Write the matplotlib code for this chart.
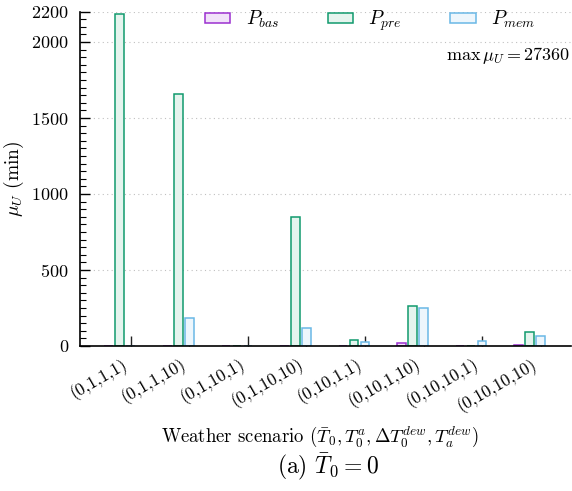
import matplotlib
matplotlib.use("Agg")
import matplotlib.pyplot as plt
import matplotlib.transforms as mtrans
import numpy as np
from matplotlib.ticker import MultipleLocator, FixedLocator

plt.rcParams['font.family'] = ['cmr10', 'DejaVu Serif']
plt.rcParams['mathtext.fontset'] = 'cm'
plt.rcParams['axes.formatter.use_mathtext'] = True

categories = ['(0,1,1,1)', '(0,1,1,10)', '(0,1,10,1)', '(0,1,10,10)',
              '(0,10,1,1)', '(0,10,1,10)', '(0,10,10,1)', '(0,10,10,10)']
p_bas = [0, 1, 0, 0, 2, 18, 0, 5]
p_pre = [2184, 1658, 0, 849, 37, 265, 0, 90]
p_mem = [3, 186, 0, 118, 26, 248, 35, 68]
series_labels = [r'$P_{bas}$', r'$P_{pre}$', r'$P_{mem}$']
y_major = [0, 500, 1000, 1500, 2000, 2200]

edge_colors = ['#9b30d0', '#119a6e', '#6ab8e6']
face_colors = ['#f1e2f9', '#e5f4ee', '#edf6fc']

fig = plt.figure(figsize=(5.72, 4.91), dpi=100)
ax = fig.add_axes([80/572, 1-346/491, 491/572, (346-11.6)/491])

x = np.arange(len(categories))
d = 0.188
w = 0.152
for k, (vals, lab) in enumerate(zip([p_bas, p_pre, p_mem], series_labels)):
    ax.bar(x + (k-2)*d, vals, width=w, color=face_colors[k],
           edgecolor=edge_colors[k], linewidth=1.1, label=lab, zorder=2)

ax.set_xlim(-0.87, 7.52)
ax.set_ylim(0, 2200)
ax.set_axisbelow(True)
ax.yaxis.set_major_locator(FixedLocator(y_major))
ax.yaxis.set_minor_locator(MultipleLocator(50))
ax.grid(axis='y', which='major', linestyle=(0, (1, 3)), color='#c0c0c0', linewidth=0.8)

ax.set_xticks(x)
ax.set_xticklabels(categories, rotation=30, ha='right', rotation_mode='anchor', fontsize=12.5)
ax.tick_params(axis='x', direction='in', length=7, width=1.0, color='#222222', pad=6.5)
ax.tick_params(axis='y', which='major', direction='in', length=7, width=1.0, labelsize=13, pad=8)
ax.tick_params(axis='y', which='minor', direction='in', length=4, width=0.8)
offset = mtrans.ScaledTranslation(-9.5/100, 0, fig.dpi_scale_trans)
for lbl in ax.get_xticklabels():
    lbl.set_transform(lbl.get_transform() + offset)

for s in ['top', 'right']:
    ax.spines[s].set_visible(False)
for s in ['left', 'bottom']:
    ax.spines[s].set_linewidth(1.2)

ax.set_ylabel(r'$\mu_U$ (min)', fontsize=14, labelpad=4)
ax.set_xlabel(r'Weather scenario $(\bar{T}_0, T_0^a, \Delta T_0^{dew}, T_a^{dew})$', fontsize=13.5)
ax.xaxis.label.set_va('center')
ax.xaxis.set_label_coords((320-80)/491, (346-437)/334.4)

leg = ax.legend(loc='center left', bbox_to_anchor=(205/572, 1 - 21/491), bbox_transform=fig.transFigure,
                ncol=3, frameon=False, fontsize=14, handlelength=1.3, handleheight=0.4,
                columnspacing=2.5, handletextpad=0.8, borderpad=0, borderaxespad=0)

ax.text(0.998, 0.87, r'$\max\,\mu_U = 27360$', transform=ax.transAxes, ha='right', va='center', fontsize=13)

fig.text(328/572, 1-467/491, r'(a) $\bar{T}_0 = 0$', ha='center', va='center', fontsize=17)

fig.savefig('out.png', dpi=100)
